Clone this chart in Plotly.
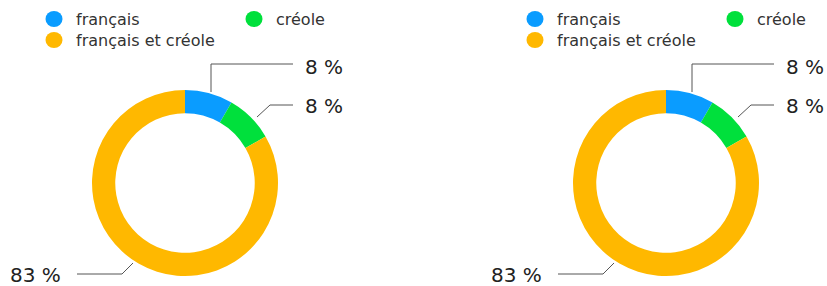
import plotly.graph_objects as go

categories = ["français", "créole", "français et créole"]
values = [8.33, 8.33, 83.33]
value_labels = ["8 %", "8 %", "83 %"]
colors = ["#0A9CFF", "#00E03C", "#FFB800"]

W, H = 827, 286
FONT = "DejaVu Sans, Liberation Sans, Arial, sans-serif"


def px(x):
    return x / W


def py(y):
    return 1 - y / H


fig = go.Figure()
shapes = []
annotations = []

for off in (0, 481):
    cx, cy, r = 185 + off, 183, 93
    fig.add_trace(go.Pie(
        labels=categories, values=values, sort=False, direction="clockwise",
        rotation=0, hole=0.75, textinfo="none", showlegend=False,
        marker=dict(colors=colors, line=dict(width=0)),
        domain=dict(x=[px(cx - r), px(cx + r)], y=[py(cy + r), py(cy - r)]),
        hoverinfo="label+percent",
    ))

    # legend
    leg = [(54, 19), (254, 19), (54, 40)]
    for (lx, ly), cat, col in zip(leg, categories, colors):
        lx += off
        shapes.append(dict(type="circle", xref="paper", yref="paper",
                           x0=px(lx - 8.5), x1=px(lx + 8.5), y0=py(ly + 8), y1=py(ly - 8),
                           fillcolor=col, line=dict(width=0)))
        annotations.append(dict(text=cat, x=px(lx + 20), y=py(ly), xref="paper", yref="paper",
                                xanchor="left", yanchor="middle", showarrow=False,
                                font=dict(family=FONT, size=16, color="#333333")))

    # leader lines
    lines = [
        [(211, 92), (211, 64), (293, 64)],
        [(257, 117), (270, 105), (293, 105)],
        [(133, 263), (122, 274), (77, 274)],
    ]
    for pts in lines:
        path = "M " + " L ".join(f"{px(x + off)},{py(y)}" for x, y in pts)
        shapes.append(dict(type="path", xref="paper", yref="paper", path=path,
                           line=dict(color="#555555", width=1)))

    label_pos = [(303, 67, "left"), (303, 106, "left"), (63, 275, "right")]
    for (tx, ty, anc), lab in zip(label_pos, value_labels):
        annotations.append(dict(text=lab, x=px(tx + off), y=py(ty), xref="paper", yref="paper",
                                xanchor=anc, yanchor="middle", showarrow=False,
                                font=dict(family=FONT, size=20, color="#222222")))

fig.update_layout(
    width=W, height=H, margin=dict(l=0, r=0, t=0, b=0),
    paper_bgcolor="white", plot_bgcolor="white",
    shapes=shapes, annotations=annotations, showlegend=False,
)

fig.write_html(
    "out.html",
    config=dict(displayModeBar=False),
    post_script=(
        "document.body.style.margin='0';"
        "document.body.style.overflow='hidden';"
        "document.documentElement.style.overflow='hidden';"
    ),
)
